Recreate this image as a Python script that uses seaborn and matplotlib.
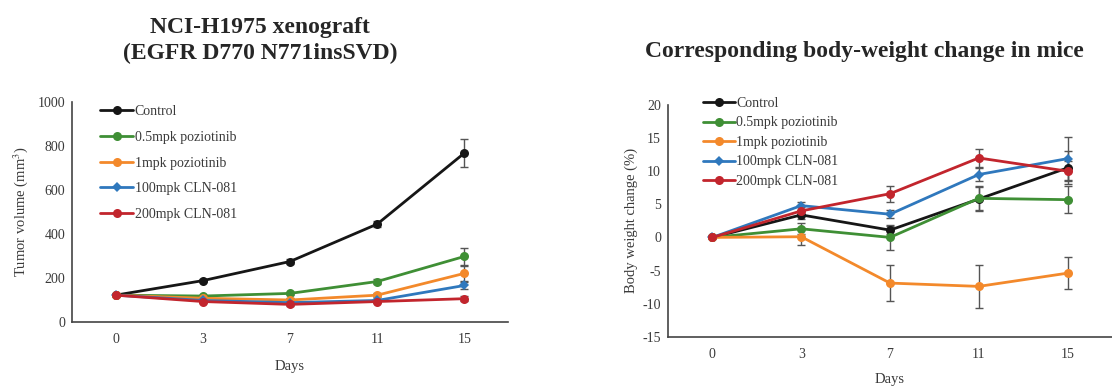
import numpy as np
import pandas as pd
import matplotlib
matplotlib.use("Agg")
import matplotlib.pyplot as plt
import seaborn as sns

# ---------------- data ----------------
days = ["0", "3", "7", "11", "15"]
groups = ["Control", "0.5mpk poziotinib", "1mpk poziotinib", "100mpk CLN-081", "200mpk CLN-081"]

tumor_control = [122, 188, 275, 445, 768]
tumor_p05 = [122, 118, 130, 184, 298]
tumor_p1 = [122, 108, 100, 122, 221]
tumor_c100 = [122, 98, 88, 98, 166]
tumor_c200 = [122, 93, 80, 93, 106]

tumor_err_control = [0, 8, 10, 15, 62]
tumor_err_p05 = [0, 6, 8, 10, 38]
tumor_err_p1 = [0, 6, 8, 10, 35]
tumor_err_c100 = [0, 5, 5, 6, 15]
tumor_err_c200 = [0, 5, 5, 6, 10]

bw_control = [0, 3.4, 1.1, 5.8, 10.5]
bw_p05 = [0, 1.3, 0.0, 5.9, 5.7]
bw_p1 = [0, 0.1, -6.9, -7.4, -5.4]
bw_c100 = [0, 4.8, 3.5, 9.5, 11.9]
bw_c200 = [0, 4.0, 6.6, 12.0, 10.0]

bw_err_control = [0, 0.6, 0.6, 1.8, 2.5]
bw_err_p05 = [0, 0.8, 1.9, 1.8, 2.0]
bw_err_p1 = [0, 1.3, 2.7, 3.3, 2.4]
bw_err_c100 = [0, 0.6, 0.6, 1.0, 3.2]
bw_err_c200 = [0, 0.6, 1.2, 1.4, 1.5]

colors = ["#161616", "#3f8f35", "#f3892b", "#2f78bd", "#c2252d"]
markers = ["o", "o", "o", "D", "o"]

tumor_vals = [tumor_control, tumor_p05, tumor_p1, tumor_c100, tumor_c200]
tumor_errs = [tumor_err_control, tumor_err_p05, tumor_err_p1, tumor_err_c100, tumor_err_c200]
bw_vals = [bw_control, bw_p05, bw_p1, bw_c100, bw_c200]
bw_errs = [bw_err_control, bw_err_p05, bw_err_p1, bw_err_c100, bw_err_c200]

# ---------------- style ----------------
sns.set_theme(style="white")
plt.rcParams['font.family'] = ['Liberation Serif', 'DejaVu Serif']
plt.rcParams['mathtext.fontset'] = 'stix'
plt.rcParams['axes.unicode_minus'] = False

fig = plt.figure(figsize=(11.12, 3.87), dpi=100)
ax1 = fig.add_axes([72/1112, 1-322/387, 436/1112, 220/387])
ax2 = fig.add_axes([668/1112, 1-336.7/387, 444/1112, 231.7/387])

pos = np.arange(len(days))
text_col = "#3a3a3a"
axis_col = "#444444"


def draw(ax, vals, errs):
    for g, v, e, c, m in zip(groups, vals, errs, colors, markers):
        df = pd.DataFrame({"pos": pos, "val": v})
        ax.errorbar(pos, v, yerr=e, fmt="none", ecolor="#555555", elinewidth=1.0,
                    capsize=3, capthick=1.0, zorder=1)
        sns.lineplot(data=df, x="pos", y="val", ax=ax, color=c, marker=m,
                     markersize=6.5 if m == "o" else 5, markeredgewidth=0,
                     linewidth=2.0, label=g, zorder=3)


draw(ax1, tumor_vals, tumor_errs)
draw(ax2, bw_vals, bw_errs)

for ax in (ax1, ax2):
    ax.set_xlim(-0.5, len(days) - 0.5)
    ax.set_xticks(np.arange(-0.5, len(days)))
    ax.set_xticklabels([])
    ax.set_xticks(pos, minor=True)
    ax.set_xticklabels(days, minor=True, fontsize=10, color=text_col)
    ax.tick_params(axis="x", which="minor", length=0, pad=8)
    ax.tick_params(axis="x", which="major", length=3, width=1, color=axis_col, direction="out")
    ax.tick_params(axis="y", length=3, width=1, color=axis_col, direction="out",
                   labelsize=10, labelcolor=text_col, pad=2)
    for s in ("top", "right"):
        ax.spines[s].set_visible(False)
    for s in ("left", "bottom"):
        ax.spines[s].set_color(axis_col)
        ax.spines[s].set_linewidth(1.2)
    ax.grid(False)

ax1.set_ylim(0, 1000)
ax1.set_yticks(np.arange(0, 1001, 200))
ax1.set_xlabel("Days", fontsize=10.5, color=text_col, labelpad=10)
ax1.set_ylabel("Tumor volume (mm$^3$)", fontsize=10.5, color=text_col, labelpad=5)

ax2.set_ylim(-15, 20)
ax2.set_yticks(np.arange(-15, 21, 5))
ax2.set_xlabel("Days", fontsize=10.5, color=text_col, labelpad=8.5)
ax2.set_ylabel("Body weight change (%)", fontsize=10.5, color=text_col, labelpad=3)

leg1 = ax1.legend(loc="upper left", bbox_to_anchor=(0.064, 0.985), frameon=False,
                  fontsize=10, labelspacing=0.91, handlelength=2.4, handletextpad=0.1,
                  borderpad=0, borderaxespad=0)
leg2 = ax2.legend(loc="upper left", bbox_to_anchor=(0.079, 1.035), frameon=False,
                  fontsize=10, labelspacing=0.47, handlelength=2.3, handletextpad=0.1,
                  borderpad=0, borderaxespad=0)
for leg in (leg1, leg2):
    for t in leg.get_texts():
        t.set_color(text_col)

fig.text(260/1112, 1-40.5/387, "NCI-H1975 xenograft\n(EGFR D770 N771insSVD)",
         ha="center", va="center", fontsize=17, fontweight="bold", linespacing=1.35)
fig.text(864/1112, 1-52/387, "Corresponding body-weight change in mice",
         ha="center", va="center", fontsize=17, fontweight="bold")

fig.savefig("out.png", dpi=100)
